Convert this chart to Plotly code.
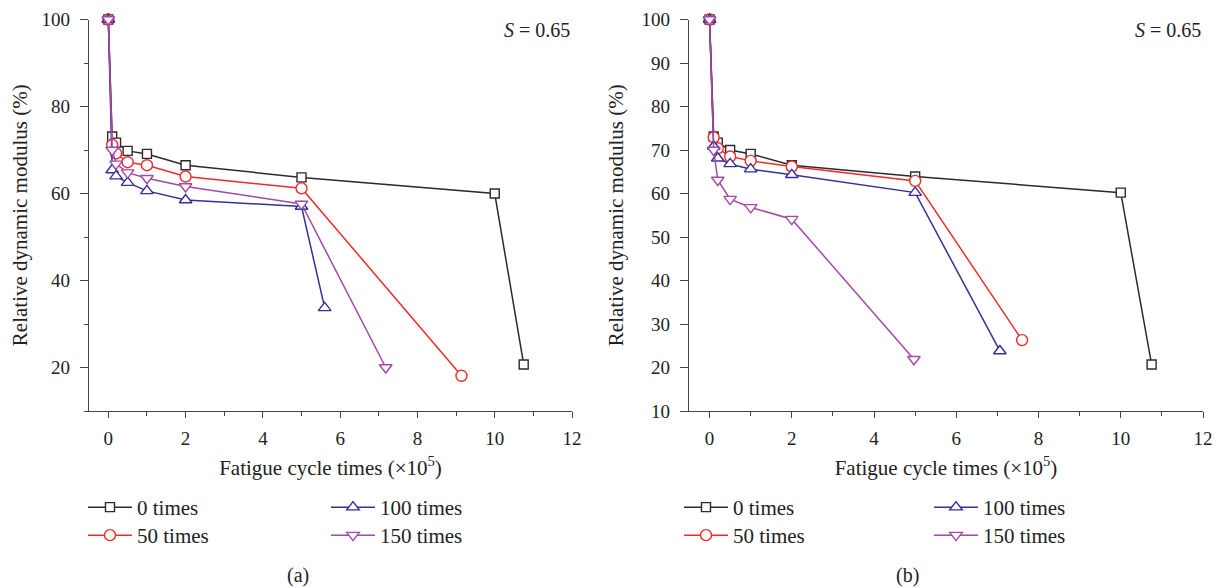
import plotly.graph_objects as go

# ---------------- data ----------------
series_names = ["0 times", "50 times", "100 times", "150 times"]

# panel (a)
a_x_0 = [0, 0.1, 0.2, 0.5, 1, 2, 5, 10, 10.75]
a_y_0 = [100, 73.1, 71.7, 69.8, 69.1, 66.5, 63.7, 60.0, 20.7]
a_x_50 = [0, 0.1, 0.2, 0.5, 1, 2, 5, 9.14]
a_y_50 = [100, 71.2, 69.2, 67.2, 66.5, 63.9, 61.2, 18.1]
a_x_100 = [0, 0.1, 0.2, 0.5, 1, 2, 5, 5.6]
a_y_100 = [100, 65.4, 64.0, 62.5, 60.6, 58.5, 57.0, 33.7]
a_x_150 = [0, 0.1, 0.2, 0.5, 1, 2, 5, 7.18]
a_y_150 = [100, 70.0, 66.8, 64.8, 63.5, 61.6, 57.6, 20.0]

# panel (b)
b_x_0 = [0, 0.1, 0.2, 0.5, 1, 2, 5, 10, 10.75]
b_y_0 = [100, 73.1, 71.7, 70.0, 69.1, 66.5, 63.9, 60.2, 20.7]
b_x_50 = [0, 0.1, 0.2, 0.5, 1, 2, 5, 7.6]
b_y_50 = [100, 72.9, 70.4, 68.5, 67.5, 66.2, 62.9, 26.3]
b_x_100 = [0, 0.1, 0.2, 0.5, 1, 2, 5, 7.06]
b_y_100 = [100, 70.8, 68.1, 66.8, 65.6, 64.3, 60.2, 23.8]
b_x_150 = [0, 0.1, 0.2, 0.5, 1, 2, 4.97]
b_y_150 = [100, 70.0, 63.1, 58.7, 56.8, 54.1, 21.9]

x_ticks = [0, 2, 4, 6, 8, 10, 12]
a_y_ticks = [20, 40, 60, 80, 100]
b_y_ticks = [10, 20, 30, 40, 50, 60, 70, 80, 90, 100]

annot_text = "<i>S</i> = 0.65"
x_title = "Fatigue cycle times (×10<sup>5</sup>)"
y_title = "Relative dynamic modulus (%)"
captions = ["(a)", "(b)"]

# ---------------- style ----------------
FONT = "Liberation Serif"
colors = ["#2b2b2b", "#f22a2a", "#35309a", "#a24aa8"]
symbols = ["square", "circle", "triangle-up", "triangle-down"]
msizes = [9, 11, 11, 11]
W, H = 1226, 588
OFF = 8  # page body offset in the browser


def px(v):
    return (v - OFF) / W


def py(v):
    return 1 - (v - OFF) / H


fig = go.Figure()

panels = [
    ("x", "y", [(a_x_0, a_y_0), (a_x_50, a_y_50), (a_x_100, a_y_100), (a_x_150, a_y_150)], 0),
    ("x2", "y2", [(b_x_0, b_y_0), (b_x_50, b_y_50), (b_x_100, b_y_100), (b_x_150, b_y_150)], 1),
]

leg_sym_x = [[90, 90, 333, 333], [686, 686, 936, 936]]
leg_row_y = [508, 536, 508, 536]

legend_common = dict(orientation="v", xanchor="left", yanchor="top",
                     bgcolor="rgba(0,0,0,0)", itemwidth=44,
                     font=dict(family=FONT, size=21, color="#222"))

leg_idx = 0
for xa, ya, data, p in panels:
    for i, (xs, ys) in enumerate(data):
        leg_idx += 1
        lname = "legend" if leg_idx == 1 else f"legend{leg_idx}"
        fig.add_trace(go.Scatter(
            x=xs, y=ys, xaxis=xa, yaxis=ya, mode="lines+markers",
            name=series_names[i], cliponaxis=False, legend=lname,
            line=dict(color=colors[i], width=1.5),
            marker=dict(symbol=symbols[i], size=msizes[i], color="white",
                        line=dict(color=colors[i], width=1.4)),
        ))
        fig.update_layout({lname: dict(legend_common,
                                       x=px(leg_sym_x[p][i] - 7),
                                       y=py(leg_row_y[i] - 21))})

axis_line = "#444444"
tickfont = dict(family=FONT, size=19, color="#222")
titlefont = dict(family=FONT, size=21, color="#222")


def xaxis(domain, anchor):
    return dict(domain=domain, anchor=anchor, range=[-0.5, 12], tickvals=x_ticks,
                showline=True, linecolor=axis_line, linewidth=1.3, mirror=False,
                ticks="outside", ticklen=6, tickcolor=axis_line, tickwidth=1.2,
                minor=dict(dtick=1, tick0=0, ticks="outside", ticklen=4, tickcolor=axis_line),
                showgrid=False, zeroline=False, tickfont=tickfont, automargin=False,
                ticklabelstandoff=4,
                title=dict(text=x_title, font=titlefont, standoff=12))


def yaxis(domain, anchor, ticks, minor):
    d = dict(domain=domain, anchor=anchor, range=[10, 100], tickvals=ticks,
             showline=True, linecolor=axis_line, linewidth=1.3,
             ticks="outside", ticklen=8, tickcolor=axis_line, tickwidth=1.2,
             showgrid=False, zeroline=False, tickfont=tickfont, automargin=False,
             ticklabelstandoff=6,
             title=dict(text=y_title, font=titlefont, standoff=12))
    if minor:
        d["minor"] = dict(dtick=10, tick0=0, ticks="outside", ticklen=4, tickcolor=axis_line)
    return d


ydom = [py(411), py(19.5)]
fig.update_layout(
    width=W, height=H,
    margin=dict(l=0, r=0, t=0, b=0, autoexpand=False),
    paper_bgcolor="white", plot_bgcolor="white",
    font=dict(family=FONT, size=19, color="#222"),
    xaxis=xaxis([px(89), px(572)], "y"),
    yaxis=yaxis(ydom, "x", a_y_ticks, True),
    xaxis2=xaxis([px(689), px(1203)], "y2"),
    yaxis2=yaxis(ydom, "x2", b_y_ticks, False),
    showlegend=True,
)

for xref, yref, cap_x, cap in [("x", "y", 298, captions[0]), ("x2", "y2", 907, captions[1])]:
    fig.add_annotation(text=annot_text, xref=f"{xref} domain", yref=f"{yref} domain",
                       x=1, y=0.973, xanchor="right", yanchor="middle", showarrow=False,
                       font=dict(family=FONT, size=20, color="#222"))
    fig.add_annotation(text=cap, xref="paper", yref="paper", x=px(cap_x), y=py(575),
                       xanchor="center", yanchor="middle", showarrow=False,
                       font=dict(family=FONT, size=20, color="#222"))

fig.write_html("out.html")
